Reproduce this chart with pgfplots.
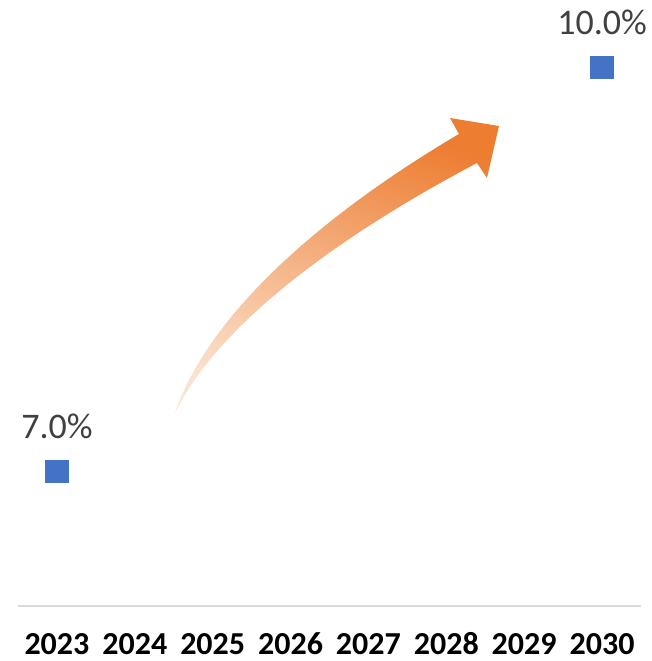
\documentclass[border=0pt]{standalone}
\usepackage{fontspec}
\setmainfont{Carlito}
\usepackage{pgfplots}
\pgfplotsset{compat=1.18}
\definecolor{mblue}{HTML}{4472C4}
\definecolor{lblgray}{HTML}{404040}
\definecolor{axgray}{HTML}{D9D9D9}
\definecolor{arrowdark}{HTML}{ED7D31}
\definecolor{arrowlight}{HTML}{FBE2CF}
\begin{document}
\begin{tikzpicture}
\begin{axis}[
  at={(0,0)}, anchor=south west,
  scale only axis,
  width=311.5pt, height=303pt,
  xmin=-0.5, xmax=7.5,
  ymin=6, ymax=10.5,
  axis x line=bottom,
  axis y line=none,
  axis line style={axgray, line width=1pt, -},
  xtick={0,1,2,3,4,5,6,7},
  xticklabels={2023,2024,2025,2026,2027,2028,2029,2030},
  major tick length=0pt,
  xticklabel style={font=\fontsize{16}{19}\selectfont\bfseries, text=black, anchor=base, yshift=-24pt, inner sep=0pt},
  clip=false,
  point meta=explicit symbolic,
  nodes near coords,
  every node near coord/.style={anchor=base, yshift=16.5pt, inner sep=0pt, font=\fontsize{18}{21}\selectfont, text=lblgray},
]
\addplot[only marks, mark=square*, mark size=5.7pt, mark options={fill=mblue, draw=mblue}]
  coordinates {(0,7.0) [7.0\%] (7,10.0) [10.0\%]};
\end{axis}
\begin{scope}[x=0.5pt, y=-0.5pt, shift={(-9pt,303pt)}]
\shade[top color=arrowdark, bottom color=arrowlight, shading angle=-20]
  (175,413) .. controls (210,310) and (330,210) .. (459,134)
  -- (450,118) -- (499,126) -- (487,178) -- (477,163)
  .. controls (350,230) and (220,320) .. (175,413) -- cycle;
\end{scope}
\pgfresetboundingbox
\useasboundingbox (-9pt,-27.5pt) rectangle (317pt,303pt);
\end{tikzpicture}
\end{document}
